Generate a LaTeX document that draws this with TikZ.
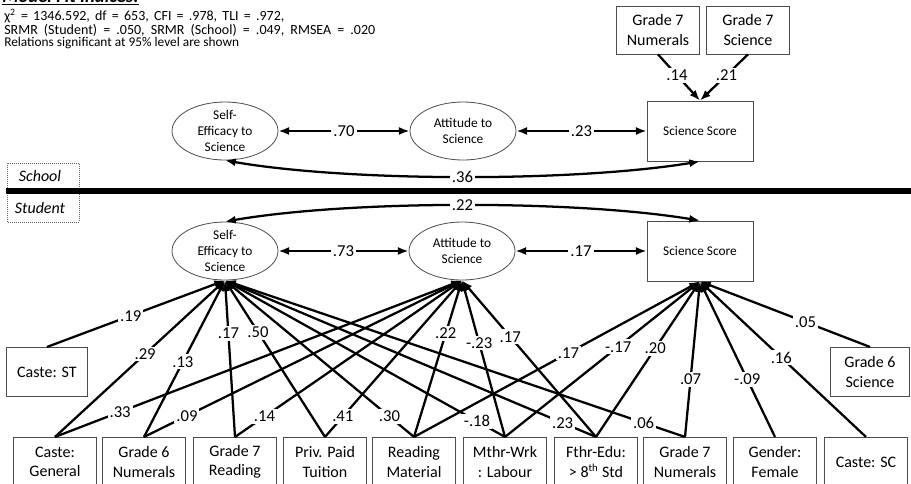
\documentclass[tikz,border=0pt]{standalone}
\usepackage{fontspec}
\setmainfont{Carlito}
\usetikzlibrary{shapes.geometric}
\usetikzlibrary{arrows.meta}

\begin{document}
\begin{tikzpicture}[x=0.75pt,y=-0.75pt,
  varbox/.style={draw=black!70,line width=0.6pt,minimum width=62pt,minimum height=37pt,inner sep=1pt,align=center,font=\fontsize{12}{14.5}\selectfont},
  latent/.style={ellipse,draw=black!70,line width=0.6pt,minimum width=79.5pt,minimum height=43.5pt,inner sep=-2pt,align=center,font=\fontsize{10}{12}\selectfont},
  score/.style={draw=black!70,line width=0.6pt,minimum width=79.5pt,minimum height=45pt,font=\fontsize{10}{12}\selectfont},
  link/.style={line width=1.7pt,-{Latex[length=8pt,width=6pt]}},
  both/.style={{Latex[length=8pt,width=6pt]}-{Latex[length=8pt,width=6pt]}},
  coef/.style={fill=white,inner sep=1.5pt,font=\fontsize{12.5}{14}\selectfont},
  lvl/.style={inner sep=1pt,font=\fontsize{12}{14}\selectfont\itshape},
  fitnote/.style={anchor=base west,inner sep=0pt,font=\fontsize{10.5}{11}\selectfont}]
\useasboundingbox (0,0) rectangle (911,483);

% fit indices
\node[anchor=base west,inner sep=0pt,font=\fontsize{14}{16}\selectfont\bfseries\itshape] (title) at (2,2.5) {\underline{Model Fit Indices:}};
\node[fitnote] (fitA) at (4,20.5) {\spaceskip=3.9pt χ\textsuperscript{2} = 1346.592, df = 653, CFI = .978, TLI = .972,};
\node[fitnote] (fitB) at (4,34) {\spaceskip=4.6pt SRMR (Student) = .050, SRMR (School) = .049, RMSEA = .020};
\node[fitnote,font=\fontsize{10}{11}\selectfont] (fitC) at (4,46.5) {Relations significant at 95\% level are shown};

% school level
\node[latent] (seSch) at (225,131) {Self-\\Efficacy to\\Science};
\node[latent] (attSch) at (463,131) {Attitude to\\Science};
\node[score] (ssSch) at (700,131) {Science Score};
\node[varbox,minimum height=36pt] (g7numSch) at (658,30) {Grade 7\\Numerals};
\node[varbox,minimum height=36pt] (g7sciSch) at (748,30) {Grade 7\\Science};

\draw[link,both] (seSch.east) -- node[coef] {.70} (attSch.west);
\draw[link,both] (attSch.east) -- node[coef] {.23} (ssSch.west);
\draw[link] (g7numSch.south) -- node[coef,pos=.45] {.14} (ssSch.north);
\draw[link] (g7sciSch.south) -- node[coef,pos=.45] {.21} (ssSch.north);
\draw[link,both] (seSch.south) .. controls (350,182) and (575,182) .. node[coef] {.36} (ssSch.south);

% levels
\draw[black!60,densely dotted,line width=0.5pt] (7,163) rectangle (79,222);
\draw[line width=4pt] (6,191) -- (911,191);
\node[lvl] (school) at (40,176) {School};
\node[lvl] (student) at (40,208) {Student};

% student level
\node[latent] (seStu) at (225,251) {Self-\\Efficacy to\\Science};
\node[latent] (attStu) at (462,251) {Attitude to\\Science};
\node[score] (ssStu) at (700,251) {Science Score};

\node[varbox,minimum width=61pt] (casteST) at (47,372) {Caste: ST};
\node[varbox,minimum width=59pt] (g6sci) at (870,372) {Grade 6\\Science};
\node[varbox] (casteGen) at (55,462) {Caste:\\General};
\node[varbox] (g6num) at (144,462) {Grade 6\\Numerals};
\node[varbox] (g7read) at (235,462) {Grade 7\\Reading};
\node[varbox] (tuition) at (325,462) {Priv. Paid\\Tuition};
\node[varbox] (readMat) at (414,462) {Reading\\Material};
\node[varbox] (mthrWrk) at (505,462) {Mthr-Wrk\\: Labour};
\node[varbox] (fthrEdu) at (596,462) {Fthr-Edu:\\> 8\textsuperscript{th} Std};
\node[varbox] (g7num) at (685,462) {Grade 7\\Numerals};
\node[varbox] (gender) at (775,462) {Gender:\\Female};
\node[varbox] (casteSC) at (866,462) {Caste: SC};

\draw[link,both] (seStu.east) -- node[coef] {.73} (attStu.west);
\draw[link,both] (attStu.east) -- node[coef] {.17} (ssStu.west);
\draw[link,both] (seStu.north) .. controls (350,200) and (575,200) .. node[coef] {.22} (ssStu.north);

% to self-efficacy
\draw[link] (casteST.north) -- node[coef,pos=.47] {.19} (seStu.south);
\draw[link] (casteGen.north) -- node[coef,pos=.53] {.29} (seStu.south);
\draw[link] (g6num.north) -- node[coef,pos=.48] {.13} (seStu.south);
\draw[link] (g7read.north) -- node[coef,pos=.66] {.17} (seStu.south);
\draw[link] (tuition.north) -- node[coef,pos=.67] {.50} (seStu.south);
\draw[link] (readMat.north) -- node[coef,pos=.13] {.30} (seStu.south);
\draw[link] (mthrWrk.north) -- node[coef,pos=.10] {-.18} (seStu.south);
\draw[link] (fthrEdu.north) -- node[coef,pos=.09] {.23} (seStu.south);
\draw[link] (g7num.north) -- node[coef,pos=.09] {.06} (seStu.south);

% to attitude
\draw[link] (casteGen.north) -- node[coef,pos=.16] {.33} (attStu.south);
\draw[link] (g6num.north) -- node[coef,pos=.135] {.09} (attStu.south);
\draw[link] (g7read.north) -- node[coef,pos=.13] {.14} (attStu.south);
\draw[link] (tuition.north) -- node[coef,pos=.13] {.41} (attStu.south);
\draw[link] (readMat.north) -- node[coef,pos=.66] {.22} (attStu.south);
\draw[link] (mthrWrk.north) -- node[coef,pos=.60] {-.23} (attStu.south);
\draw[link] (fthrEdu.north) -- node[coef,pos=.64] {.17} (attStu.south);

% to science score
\draw[link] (readMat.north) -- node[coef,pos=.54] {.17} (ssStu.south);
\draw[link] (mthrWrk.north) -- node[coef,pos=.58] {-.17} (ssStu.south);
\draw[link] (fthrEdu.north) -- node[coef,pos=.57] {.20} (ssStu.south);
\draw[link] (g7num.north) -- node[coef,pos=.37] {.07} (ssStu.south);
\draw[link] (gender.north) -- node[coef,pos=.37] {-.09} (ssStu.south);
\draw[link] (casteSC.north) -- node[coef,pos=.51] {.16} (ssStu.south);
\draw[link] (g6sci.north) -- node[coef,pos=.38] {.05} (ssStu.south);
\end{tikzpicture}
\end{document}
